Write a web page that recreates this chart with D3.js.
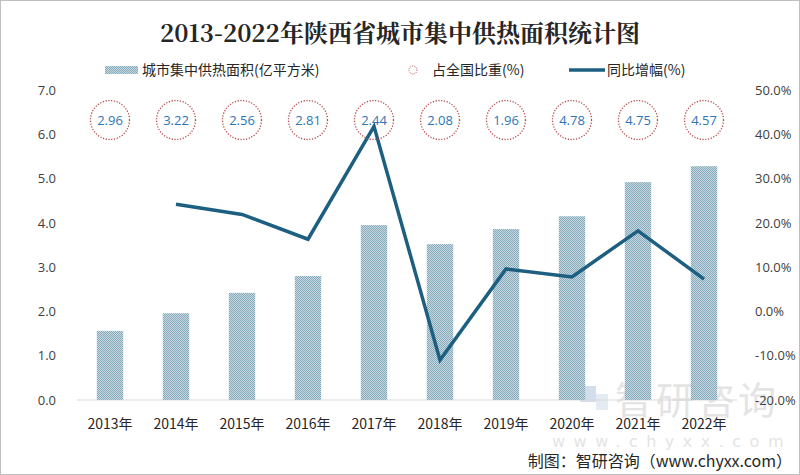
<!DOCTYPE html>
<html>
<head>
<meta charset="utf-8">
<script src="https://cdn.jsdelivr.net/npm/d3@7"></script>
<style>
  body { margin: 0; background: #fff; }
  svg { display: block; }
</style>
</head>
<body>
<div id="chart"></div>
<script>
// data
const years = ["2013年", "2014年", "2015年", "2016年", "2017年", "2018年", "2019年", "2020年", "2021年", "2022年"];
const area = [1.56, 1.96, 2.42, 2.80, 3.95, 3.52, 3.86, 4.15, 4.92, 5.28]; // 亿平方米
const share = ["2.96", "3.22", "2.56", "2.81", "2.44", "2.08", "1.96", "4.78", "4.75", "4.57"]; // %
const growth = [null, 24.2, 21.9, 16.3, 41.8, -11.0, 9.6, 7.8, 18.2, 7.3]; // %
const leftTicks = [0, 1, 2, 3, 4, 5, 6, 7];
const rightTicks = [-20, -10, 0, 10, 20, 30, 40, 50];

const width = 800,
      height = 475,
      margin = ({ top: 90, right: 63, bottom: 75, left: 77 });

let svg = d3.select("#chart")
    .append("svg")
    .attr("width", width)
    .attr("height", height)
    .attr("viewBox", [0, 0, width, height]);

// checker pattern for the bars
let defs = svg.append("defs");
let pat = defs.append("pattern")
    .attr("id", "checker")
    .attr("width", 2).attr("height", 2)
    .attr("patternUnits", "userSpaceOnUse");
pat.append("rect").attr("width", 2).attr("height", 2).attr("fill", "#c6d9e2");
pat.append("rect").attr("width", 1).attr("height", 1).attr("fill", "#86aaba");
pat.append("rect").attr("x", 1).attr("y", 1).attr("width", 1).attr("height", 1).attr("fill", "#86aaba");

// outer border
svg.append("rect")
    .attr("x", 0.5).attr("y", 0.5)
    .attr("width", width - 1).attr("height", height - 1)
    .attr("fill", "none")
    .attr("stroke", "#bfbfbf");

let x = d3.scaleBand()
    .domain(years)
    .range([margin.left, width - margin.right])
    .paddingInner(0.6)
    .paddingOuter(0.3);

let y = d3.scaleLinear()
    .domain([0, 7])
    .range([400, 90]);

let y2 = d3.scaleLinear()
    .domain([-20, 50])
    .range([400, 90]);

// watermark (sits behind everything)
svg.append("rect")
    .attr("x", 580).attr("y", 386).attr("width", 16).attr("height", 16)
    .attr("fill", "#c7d6e6").attr("opacity", 0.8);
svg.append("rect")
    .attr("x", 596).attr("y", 394).attr("width", 12).attr("height", 16)
    .attr("fill", "#dde6ef").attr("opacity", 0.8);
svg.append("text")
    .attr("x", 697).attr("y", 414)
    .attr("text-anchor", "middle")
    .attr("font-family", "'Noto Sans CJK SC', sans-serif")
    .attr("font-size", 38)
    .attr("fill", "#e4e4e4")
    .attr("letter-spacing", 3)
    .text("智研咨询");
svg.append("text")
    .attr("x", 672).attr("y", 447)
    .attr("text-anchor", "middle")
    .attr("font-family", "'DejaVu Sans', sans-serif")
    .attr("font-size", 16)
    .attr("fill", "#e4e4e4")
    .attr("letter-spacing", 8.5)
    .text("www.chyxx.com");

// baseline
svg.append("line")
    .attr("x1", margin.left).attr("x2", width - margin.right)
    .attr("y1", y(0)).attr("y2", y(0))
    .attr("stroke", "#d9d9d9");

// left axis
let axL = svg.append("g")
    .attr("transform", `translate(${margin.left - 18},0)`)
    .call(d3.axisLeft(y).tickValues(leftTicks).tickFormat(d3.format(".1f")).tickSize(0));
axL.select(".domain").remove();
axL.selectAll("text")
    .attr("font-family", "'Open Sans', 'Liberation Sans', sans-serif")
    .attr("font-size", 13)
    .attr("fill", "#404040");

// right axis
let axR = svg.append("g")
    .attr("transform", `translate(752,0)`)
    .call(d3.axisRight(y2).tickValues(rightTicks).tickFormat(d => d.toFixed(1) + "%").tickSize(0));
axR.select(".domain").remove();
axR.selectAll("text")
    .attr("font-family", "'Open Sans', 'Liberation Sans', sans-serif")
    .attr("font-size", 13)
    .attr("fill", "#404040");

// bars
svg.selectAll(".bar")
    .data(area)
    .join("rect")
    .attr("class", "bar")
    .attr("x", (d, i) => x(years[i]))
    .attr("width", x.bandwidth())
    .attr("y", d => y(d))
    .attr("height", d => y(0) - y(d))
    .attr("fill", "url(#checker)");

// x labels
svg.selectAll(".xlab")
    .data(years)
    .join("text")
    .attr("class", "xlab")
    .attr("x", d => x(d) + x.bandwidth() / 2)
    .attr("y", 429)
    .attr("text-anchor", "middle")
    .attr("font-family", "'Noto Sans CJK SC', sans-serif")
    .attr("font-size", 14)
    .attr("fill", "#262626")
    .text(d => d);

// growth line
let line = d3.line()
    .defined(d => d !== null)
    .x((d, i) => x(years[i]) + x.bandwidth() / 2)
    .y(d => y2(d));

svg.append("path")
    .datum(growth)
    .attr("d", line)
    .attr("fill", "none")
    .attr("stroke", "#1d5f80")
    .attr("stroke-width", 3.5)
    .attr("stroke-linejoin", "miter");

// share circles
let circ = svg.selectAll(".share")
    .data(share)
    .join("g")
    .attr("class", "share")
    .attr("transform", (d, i) => `translate(${x(years[i]) + x.bandwidth() / 2},120)`);

circ.append("circle")
    .attr("r", 19.5)
    .attr("fill", "none")
    .attr("stroke", "#b5474a")
    .attr("stroke-width", 1.3)
    .attr("stroke-dasharray", "1.2,1.6");

circ.append("text")
    .attr("text-anchor", "middle")
    .attr("dy", "0.35em")
    .attr("font-family", "'Open Sans', 'Liberation Sans', sans-serif")
    .attr("font-size", 13)
    .attr("fill", "#2e75b6")
    .text(d => d);

// title
svg.append("text")
    .attr("x", 400)
    .attr("y", 42)
    .attr("text-anchor", "middle")
    .attr("font-family", "'Noto Serif CJK SC', 'Noto Sans CJK SC', serif")
    .attr("font-weight", "bold")
    .attr("font-size", 24)
    .attr("fill", "#262626")
    .text("2013-2022年陕西省城市集中供热面积统计图");

// legend
let lg = svg.append("g");
lg.append("rect")
    .attr("x", 105).attr("y", 66).attr("width", 33).attr("height", 8)
    .attr("fill", "url(#checker)");
lg.append("text")
    .attr("x", 142).attr("y", 75)
    .attr("font-family", "'Noto Sans CJK SC', sans-serif")
    .attr("font-size", 14)
    .attr("fill", "#262626")
    .text("城市集中供热面积(亿平方米)");
lg.append("circle")
    .attr("cx", 413).attr("cy", 70).attr("r", 4)
    .attr("fill", "none")
    .attr("stroke", "#b5474a")
    .attr("stroke-width", 1)
    .attr("stroke-dasharray", "1,1.2");
lg.append("text")
    .attr("x", 432).attr("y", 75)
    .attr("font-family", "'Noto Sans CJK SC', sans-serif")
    .attr("font-size", 14)
    .attr("fill", "#262626")
    .text("占全国比重(%)");
lg.append("line")
    .attr("x1", 569).attr("x2", 605)
    .attr("y1", 70).attr("y2", 70)
    .attr("stroke", "#1d5f80")
    .attr("stroke-width", 3.5);
lg.append("text")
    .attr("x", 607).attr("y", 75)
    .attr("font-family", "'Noto Sans CJK SC', sans-serif")
    .attr("font-size", 14)
    .attr("fill", "#262626")
    .text("同比增幅(%)");

// source
svg.append("text")
    .attr("x", 792)
    .attr("y", 467)
    .attr("text-anchor", "end")
    .attr("font-family", "'Noto Sans CJK SC', sans-serif")
    .attr("font-size", 16)
    .attr("fill", "#262626")
    .text("制图：智研咨询（www.chyxx.com）");
</script>
</body>
</html>
